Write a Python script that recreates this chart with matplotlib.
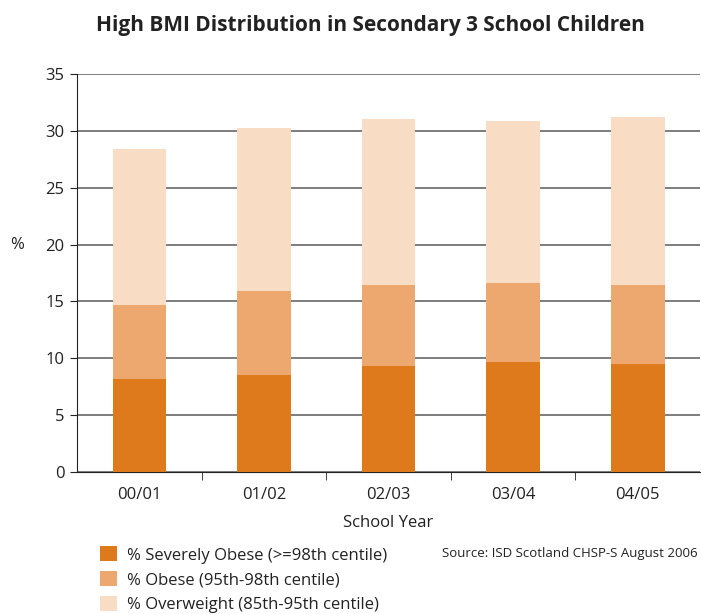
import matplotlib
matplotlib.use("Agg")
import matplotlib.pyplot as plt
import numpy as np
from matplotlib.patches import Patch

plt.rcParams["font.family"] = ["Open Sans", "DejaVu Sans"]

anos = ["00/01", "01/02", "02/03", "03/04", "04/05"]
severamente_obeso = [8.2, 8.5, 9.3, 9.7, 9.5]
obeso = [6.5, 7.4, 7.1, 6.9, 6.9]
sobrepeso = [13.7, 14.35, 14.6, 14.3, 14.85]

rotulos = ["% Severely Obese (>=98th centile)",
           "% Obese (95th-98th centile)",
           "% Overweight (85th-95th centile)"]
cores = ["#DF7A1C", "#ECA86F", "#F8DCC3"]

fig = plt.figure(figsize=(7.01, 6.14), dpi=100)
ax = fig.add_axes([0.110, 0.2313, 0.8886, 0.6482])

x = np.arange(len(anos))
largura = 0.43
base = np.zeros(len(anos))
for serie, cor in zip([severamente_obeso, obeso, sobrepeso], cores):
    ax.bar(x, serie, width=largura, bottom=base, color=cor, zorder=3)
    base = base + np.array(serie)

ax.set_xlim(-0.5, len(anos) - 0.5)
ax.set_ylim(0, 35)
ax.set_yticks(range(0, 36, 5))
ax.yaxis.grid(True, color="#5a5a5a", linewidth=1.1, zorder=0)

ax.spines["top"].set_visible(False)
ax.spines["right"].set_visible(False)
ax.spines["left"].set_color("#222222")
ax.spines["bottom"].set_color("#222222")

ax.set_xticks(x)
ax.set_xticklabels(anos, fontsize=12, color="#222222")
ax.tick_params(axis="x", which="major", length=0, pad=11)
ax.set_xticks(np.arange(0.5, len(anos) - 0.5, 1), minor=True)
ax.tick_params(axis="x", which="minor", length=6, color="#222222")
ax.tick_params(axis="y", length=5, color="#222222", labelsize=12, labelcolor="#222222", pad=4)

ax.set_xlabel("School Year", fontsize=12, color="#222222", labelpad=8.5)
fig.text(17 / 701, 1 - 245 / 614, "%", fontsize=12, color="#222222", ha="center", va="center")

fig.suptitle("High BMI Distribution in Secondary 3 School Children",
             x=370 / 701, y=1 - 26 / 614, va="center", fontsize=15, fontweight="bold", color="#222222")

handles = [Patch(facecolor=c, edgecolor="none") for c in cores]
fig.legend(handles, rotulos, loc="upper left", bbox_to_anchor=(92 / 701, 1 - 538 / 614),
           frameon=False, fontsize=12, handlelength=1.0, handleheight=1.0,
           labelspacing=0.45, handletextpad=0.6, borderpad=0, labelcolor="#222222")

fig.text(698 / 701, 1 - 553 / 614, "Source: ISD Scotland CHSP-S August 2006",
         fontsize=9.5, color="#222222", ha="right", va="center")

fig.savefig("out.png", dpi=100)
